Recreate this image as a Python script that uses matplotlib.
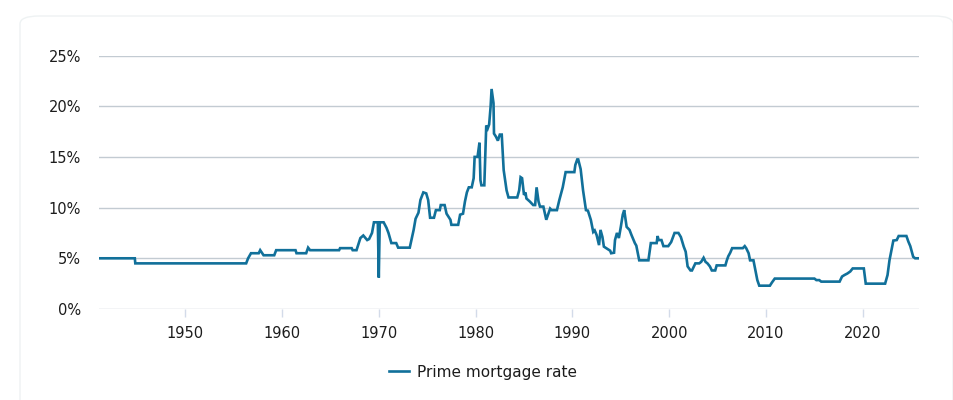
import matplotlib
matplotlib.use("Agg")
import matplotlib.pyplot as plt
from matplotlib.patches import FancyBboxPatch
from matplotlib.ticker import FuncFormatter

# values (year, prime mortgage rate in %)
years = [
    1941.1, 1944.8, 1944.85, 1956.3, 1956.5, 1956.8, 1957.6, 1957.75, 1958.1, 1959.2,
    1959.4, 1961.4, 1961.5, 1962.5, 1962.7, 1962.9, 1965.9, 1966.0, 1967.2, 1967.3,
    1967.7, 1968.1, 1968.4, 1968.8, 1969.0, 1969.3, 1969.5, 1969.9, 1970.0, 1970.1,
    1970.5, 1970.8, 1971.0, 1971.3, 1971.8, 1972.0, 1973.2, 1973.6, 1973.8, 1974.1,
    1974.3, 1974.6, 1974.9, 1975.1, 1975.3, 1975.7, 1975.9, 1976.3, 1976.4, 1976.8,
    1977.0, 1977.4, 1977.5, 1978.2, 1978.4, 1978.7, 1978.9, 1979.1, 1979.3, 1979.6,
    1979.8, 1979.9, 1980.2, 1980.4, 1980.5, 1980.6, 1980.9, 1981.1, 1981.25, 1981.4,
    1981.55, 1981.65, 1981.85, 1981.9, 1982.1, 1982.3, 1982.5, 1982.7, 1982.9, 1983.2,
    1983.4, 1984.3, 1984.5, 1984.65, 1984.8, 1985.0, 1985.15, 1985.25, 1985.6, 1985.95,
    1986.15, 1986.3, 1986.5, 1986.65, 1987.0, 1987.3, 1987.7, 1987.85, 1988.4, 1988.65,
    1989.0, 1989.3, 1990.2, 1990.3, 1990.5, 1990.6, 1990.85, 1991.1, 1991.4, 1991.6,
    1991.9, 1992.15, 1992.3, 1992.5, 1992.75, 1992.9, 1993.1, 1993.25, 1993.5, 1993.9,
    1994.0, 1994.3, 1994.4, 1994.6, 1994.8, 1995.0, 1995.2, 1995.35, 1995.6, 1995.9,
    1996.1, 1996.45, 1996.6, 1996.9, 1997.85, 1998.1, 1998.7, 1998.8, 1998.9, 1999.2,
    1999.4, 1999.9, 2000.2, 2000.55, 2000.95, 2001.2, 2001.5, 2001.7, 2001.9, 2002.2,
    2002.35, 2002.7, 2003.1, 2003.3, 2003.55, 2003.75, 2003.95, 2004.2, 2004.4, 2004.75,
    2004.9, 2005.8, 2005.95, 2006.1, 2006.3, 2006.5, 2007.6, 2007.8, 2007.95, 2008.2,
    2008.35, 2008.7, 2008.9, 2009.1, 2009.3, 2010.4, 2010.6, 2010.9, 2015.0, 2015.2,
    2015.5, 2015.7, 2017.6, 2017.85, 2018.1, 2018.4, 2018.7, 2018.95, 2020.1, 2020.3,
    2022.3, 2022.55, 2022.75, 2023.0, 2023.15, 2023.5, 2023.7, 2024.5, 2024.7, 2024.9,
    2025.2, 2025.4, 2025.8,
]
rates = [
    5.0, 5.0, 4.5, 4.5, 5.0, 5.5, 5.5, 5.8, 5.3, 5.3,
    5.8, 5.8, 5.5, 5.5, 6.05, 5.8, 5.8, 6.0, 6.0, 5.8,
    5.8, 7.0, 7.25, 6.8, 6.9, 7.5, 8.55, 8.55, 3.1, 8.55,
    8.55, 8.0, 7.5, 6.5, 6.5, 6.05, 6.05, 7.8, 8.9, 9.5,
    10.75, 11.5, 11.4, 10.75, 9.0, 9.0, 9.75, 9.75, 10.25, 10.25,
    9.4, 8.8, 8.3, 8.3, 9.3, 9.4, 10.6, 11.5, 12.0, 12.0,
    12.9, 15.0, 15.0, 16.4, 12.7, 12.2, 12.2, 18.1, 17.8, 18.2,
    19.95, 21.7, 20.3, 17.3, 17.0, 16.6, 17.2, 17.2, 13.7, 11.7,
    11.0, 11.0, 11.7, 13.0, 12.9, 11.25, 11.5, 10.9, 10.6, 10.25,
    10.25, 12.0, 10.6, 10.1, 10.1, 8.8, 9.9, 9.75, 9.75, 10.75,
    12.0, 13.5, 13.5, 14.2, 14.75, 14.75, 13.8, 11.7, 9.75, 9.7,
    8.8, 7.6, 7.75, 7.3, 6.3, 7.8, 7.1, 6.15, 6.0, 5.75,
    5.5, 5.55, 6.8, 7.5, 7.0, 8.1, 9.3, 9.75, 8.1, 7.8,
    7.3, 6.5, 6.25, 4.8, 4.8, 6.5, 6.5, 7.2, 6.8, 6.8,
    6.2, 6.2, 6.6, 7.5, 7.5, 7.1, 6.15, 5.65, 4.2, 3.8,
    3.8, 4.5, 4.5, 4.65, 5.05, 4.65, 4.5, 4.2, 3.8, 3.8,
    4.3, 4.3, 4.8, 5.2, 5.55, 6.0, 6.0, 6.2, 6.0, 5.5,
    4.8, 4.8, 3.85, 2.85, 2.3, 2.3, 2.6, 3.0, 3.0, 2.85,
    2.85, 2.7, 2.7, 3.2, 3.35, 3.5, 3.7, 4.0, 4.0, 2.5,
    2.5, 3.35, 4.8, 6.0, 6.75, 6.8, 7.2, 7.2, 6.65, 6.2,
    5.15, 5.0, 5.0,
]
xticks = [1950, 1960, 1970, 1980, 1990, 2000, 2010, 2020]
yticks = [0, 5, 10, 15, 20, 25]
series_name = "Prime mortgage rate"

line_color = "#11709a"
grid_color = "#c3cbd2"
text_color = "#1c1c1c"

fig = plt.figure(figsize=(9.54, 4.0), dpi=100)
fig.patch.set_facecolor("white")

# faint rounded card behind the chart
card = FancyBboxPatch((20 / 954, -0.05), 933 / 954, 1 - 16 / 400 + 0.05,
                      boxstyle="round,pad=0,rounding_size=0.02",
                      transform=fig.transFigure, facecolor="none",
                      edgecolor="#eef2f3", linewidth=1.0, zorder=-10)
fig.patches.append(card)

ax = fig.add_axes([99 / 954, 91 / 400, 820 / 954, 253.5 / 400])
ax.set_facecolor("none")

ax.plot(years, rates, color=line_color, linewidth=1.9, label=series_name,
        solid_joinstyle="miter", zorder=3)

ax.set_xlim(1941.1, 2025.8)
ax.set_ylim(0, 25)
ax.set_xticks(xticks)
ax.set_yticks(yticks)
ax.yaxis.set_major_formatter(FuncFormatter(lambda v, p: f"{int(v)}%"))

for spine in ax.spines.values():
    spine.set_visible(False)

ax.grid(axis="y", color=grid_color, linewidth=1.0, zorder=1)
ax.set_axisbelow(True)

ax.tick_params(axis="y", length=0, pad=13, labelsize=10.5, labelcolor=text_color)
ax.tick_params(axis="x", length=6, width=1.0, color="#d3dbe9", pad=6,
               labelsize=10.5, labelcolor=text_color)

leg = fig.legend(loc="center", bbox_to_anchor=(483 / 954, 1 - 372 / 400),
                 frameon=False, handlelength=1.3, handletextpad=0.5,
                 fontsize=11)
for t in leg.get_texts():
    t.set_color(text_color)

plt.savefig("out.png", dpi=100)
